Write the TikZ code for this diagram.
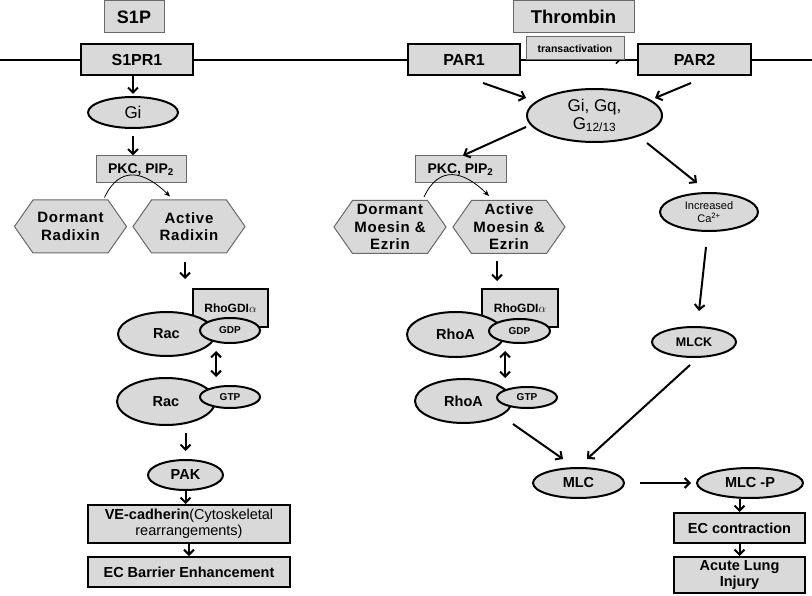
\documentclass[tikz,border=0pt]{standalone}
\usepackage{fontspec}
\setmainfont{Liberation Sans}
\newfontfamily\spacedfont[LetterSpace=5]{Liberation Sans}
\usetikzlibrary{shapes.geometric,shapes.symbols,arrows.meta,calc}
\definecolor{boxfill}{RGB}{217,217,217}
\definecolor{edgegray}{RGB}{105,105,105}
\newcommand{\fs}[2]{\fontsize{#1}{#2}\selectfont}
\begin{document}
\begin{tikzpicture}[x=1pt,y=1pt,
  thin box/.style={rectangle,draw=edgegray,line width=1pt,fill=boxfill,inner sep=0pt,font=\bfseries\fs{14}{16}},
  thick box/.style={rectangle,draw,line width=2pt,fill=boxfill,inner sep=0pt,align=center,font=\bfseries\fs{14.5}{16}},
  oval/.style={ellipse,draw,line width=2pt,fill=boxfill,inner sep=0pt,align=center,font=\bfseries\fs{14.5}{16}},
  hexa/.style={signal,signal to=east and west,signal pointer angle=110,draw=edgegray,line width=1pt,fill=boxfill,inner xsep=0pt,inner ysep=0pt,minimum height=53pt,text width=75pt,align=center,font=\spacedfont\bfseries\fs{15}{17.5}},
  arr/.style={-{Straight Barb[length=5pt,width=10pt]},line width=2pt},
  dbl arr/.style={{Straight Barb[length=5pt,width=10pt]}-{Straight Barb[length=5pt,width=10pt]},line width=2pt},
  bend arr/.style={-{Stealth[length=6pt,width=5pt]},line width=0.8pt}]
\useasboundingbox (0,0) rectangle (812,-596);
% membrane
\draw[line width=1.5pt] (0,-60) -- (812,-60);

% receptors and ligands
\node [thin box,minimum width=60pt,minimum height=32pt,font=\bfseries\fs{18}{20}](S1P) at (134,-17) {S1P};
\node [thin box,minimum width=121pt,minimum height=32pt,font=\bfseries\fs{18.5}{20}](thrombin) at (573.5,-17) {Thrombin};
\node [thick box,minimum width=112pt,minimum height=31pt,font=\bfseries\fs{16}{18}](S1PR1) at (137,-59.5) {S1PR1};
\node [thick box,minimum width=112pt,minimum height=31pt,font=\bfseries\fs{16}{18}](PAR1) at (464,-59.5) {PAR1};
\node [thick box,minimum width=113pt,minimum height=31pt,font=\bfseries\fs{16}{18}](PAR2) at (694.5,-59.5) {PAR2};
\draw[-{Straight Barb[length=4pt,width=8pt]},line width=1.5pt,shorten >=16pt] (PAR1.east) -- (PAR2.west);
\node [thin box,minimum width=98pt,minimum height=23pt,font=\bfseries\fs{10.5}{12}](transact) at (575,-48.5) {transactivation};

% G proteins
\node [oval,minimum width=90pt,minimum height=31pt,font=\fs{17}{19}](Gi) at (133,-112.5) {Gi};
\node [oval,minimum width=135pt,minimum height=53pt,font=\fs{17}{18}](Gall) at (594.5,-115.5) {Gi, Gq,\\G\textsubscript{12/13}};
\node [thin box,minimum width=90pt,minimum height=27pt](PKC1) at (141,-169.5) {PKC, PIP\textsubscript{2}};
\node [thin box,minimum width=91pt,minimum height=27pt](PKC2) at (460.5,-169.5) {PKC, PIP\textsubscript{2}};
\node [oval,minimum width=98pt,minimum height=38pt,font=\fs{11}{13}](Ca) at (709,-212) {Increased\\Ca\textsuperscript{2+}};

% ERM proteins
\node [hexa](dormR) at (70.5,-226.5) {Dormant\\Radixin};
\node [hexa](actR) at (189,-226.5) {Active\\Radixin};
\node [hexa](dormME) at (390,-227) {Dormant\\Moesin \&\\Ezrin};
\node [hexa](actME) at (509,-227) {Active\\Moesin \&\\Ezrin};

% small GTPases
\node [thick box,minimum width=75pt,minimum height=38pt,font=\bfseries\fs{12}{14}](GDI1) at (230.5,-308) {RhoGDI$\alpha$};
\node [oval,minimum width=97pt,minimum height=44pt](rac1) at (166.5,-334) {Rac};
\node [oval,minimum width=60pt,minimum height=25pt,font=\bfseries\fs{10}{12}](GDP1) at (230,-330.5) {GDP};
\node [thick box,minimum width=76pt,minimum height=38pt,font=\bfseries\fs{12}{14}](GDI2) at (520,-308) {RhoGDI$\alpha$};
\node [oval,minimum width=97pt,minimum height=45pt](rhoA1) at (455.5,-334.5) {RhoA};
\node [oval,minimum width=61pt,minimum height=24pt,font=\bfseries\fs{10}{12}](GDP2) at (519.5,-331) {GDP};
\node [oval,minimum width=98pt,minimum height=47pt](rac2) at (166,-401.5) {Rac};
\node [oval,minimum width=60pt,minimum height=22pt,font=\bfseries\fs{10}{12}](GTP1) at (230,-397) {GTP};
\node [oval,minimum width=97pt,minimum height=44pt](rhoA2) at (463.5,-401) {RhoA};
\node [oval,minimum width=60pt,minimum height=21pt,font=\bfseries\fs{10}{12}](GTP2) at (527,-397.5) {GTP};
\node [oval,minimum width=84pt,minimum height=30pt,font=\bfseries\fs{12.5}{14}](MLCK) at (694,-342) {MLCK};

% outcomes
\node [oval,minimum width=75pt,minimum height=30pt](PAK) at (185.5,-475) {PAK};
\node [oval,minimum width=91pt,minimum height=30pt](MLC) at (578.5,-483) {MLC};
\node [oval,minimum width=106pt,minimum height=30pt](MLCP) at (750,-483) {MLC -P};
\node [thick box,minimum width=202pt,minimum height=38pt](VE) at (189,-524) {VE-cadherin\textmd{(Cytoskeletal}\\\textmd{rearrangements)}};
\node [thick box,minimum width=202pt,minimum height=30pt](ECB) at (189,-572) {EC Barrier Enhancement};
\node [thick box,minimum width=131pt,minimum height=30pt](ECC) at (739.5,-528) {EC contraction};
\node [thick box,minimum width=131pt,minimum height=36pt](ALI) at (739.5,-575) {Acute Lung\\Injury};

% S1P side
\draw[arr,shorten >=2pt] (S1PR1.south -| Gi.north) -- (Gi.north);
\draw[arr,shorten <=7pt] (Gi.south) -- (Gi.south |- PKC1.north);
\draw[bend arr] ($(dormR.north)+(34,2)$) to[out=65,in=135,looseness=1.4] ($(actR.north)+(-19,3)$);
\draw[arr,shorten <=9pt,shorten >=9pt] ([xshift=-4pt]actR.south) -- ([xshift=-4pt]actR.south |- GDI1.north);
\draw[dbl arr,shorten <=7pt,shorten >=8pt] (rac1.east |- GDP1.south) -- (rac1.east |- GTP1.north);
\draw[arr,shorten <=7pt,shorten >=8pt] (PAK.north |- rac2.south) -- (PAK.north);
\draw[arr] (PAK.south) -- (PAK.south |- VE.north);
\draw[arr] (VE.south) -- (ECB.north);

% thrombin side
\draw[arr] ([xshift=19pt,yshift=-7pt]PAR1.south) -- ([yshift=17.5pt]Gall.west);
\draw[arr] ([xshift=-3.5pt,yshift=-7pt]PAR2.south) -- ([xshift=-8pt,yshift=17.5pt]Gall.east);
\draw[arr] ([yshift=-11.5pt]Gall.west) -- ([xshift=2.5pt]PKC2.north);
\draw[arr] ([xshift=52.5pt]Gall.south) -- ([xshift=-12pt,yshift=9pt]Ca.north);
\draw[bend arr] ($(dormME.north)+(34,3)$) to[out=65,in=135,looseness=1.4] ($(actME.north)+(-20,4)$);
\draw[arr,shorten <=7pt,shorten >=7pt] ([xshift=-12pt]actME.south) -- ([xshift=-12pt]actME.south |- GDI2.north);
\draw[dbl arr,shorten <=7pt,shorten >=8pt] (rhoA1.east |- GDP2.south) -- (rhoA1.east |- GTP2.north);
\draw[arr] ([xshift=-3pt,yshift=-15pt]Ca.south) -- ([xshift=5pt,yshift=15pt]MLCK.north);
\draw[arr] ([xshift=-4pt,yshift=-7pt]MLCK.south) -- ([xshift=8.5pt,yshift=8pt]MLC.north);
\draw[arr] ([xshift=49.5pt]rhoA2.south) -- ([xshift=-15.5pt,yshift=8pt]MLC.north);
\draw[arr] ([xshift=15pt]MLC.east) -- ([xshift=-5pt]MLCP.west);
\draw[arr] (ECC.north |- MLCP.south) -- (ECC.north);
\draw[arr] (ECC.south) -- (ALI.north);
\end{tikzpicture}
\end{document}
